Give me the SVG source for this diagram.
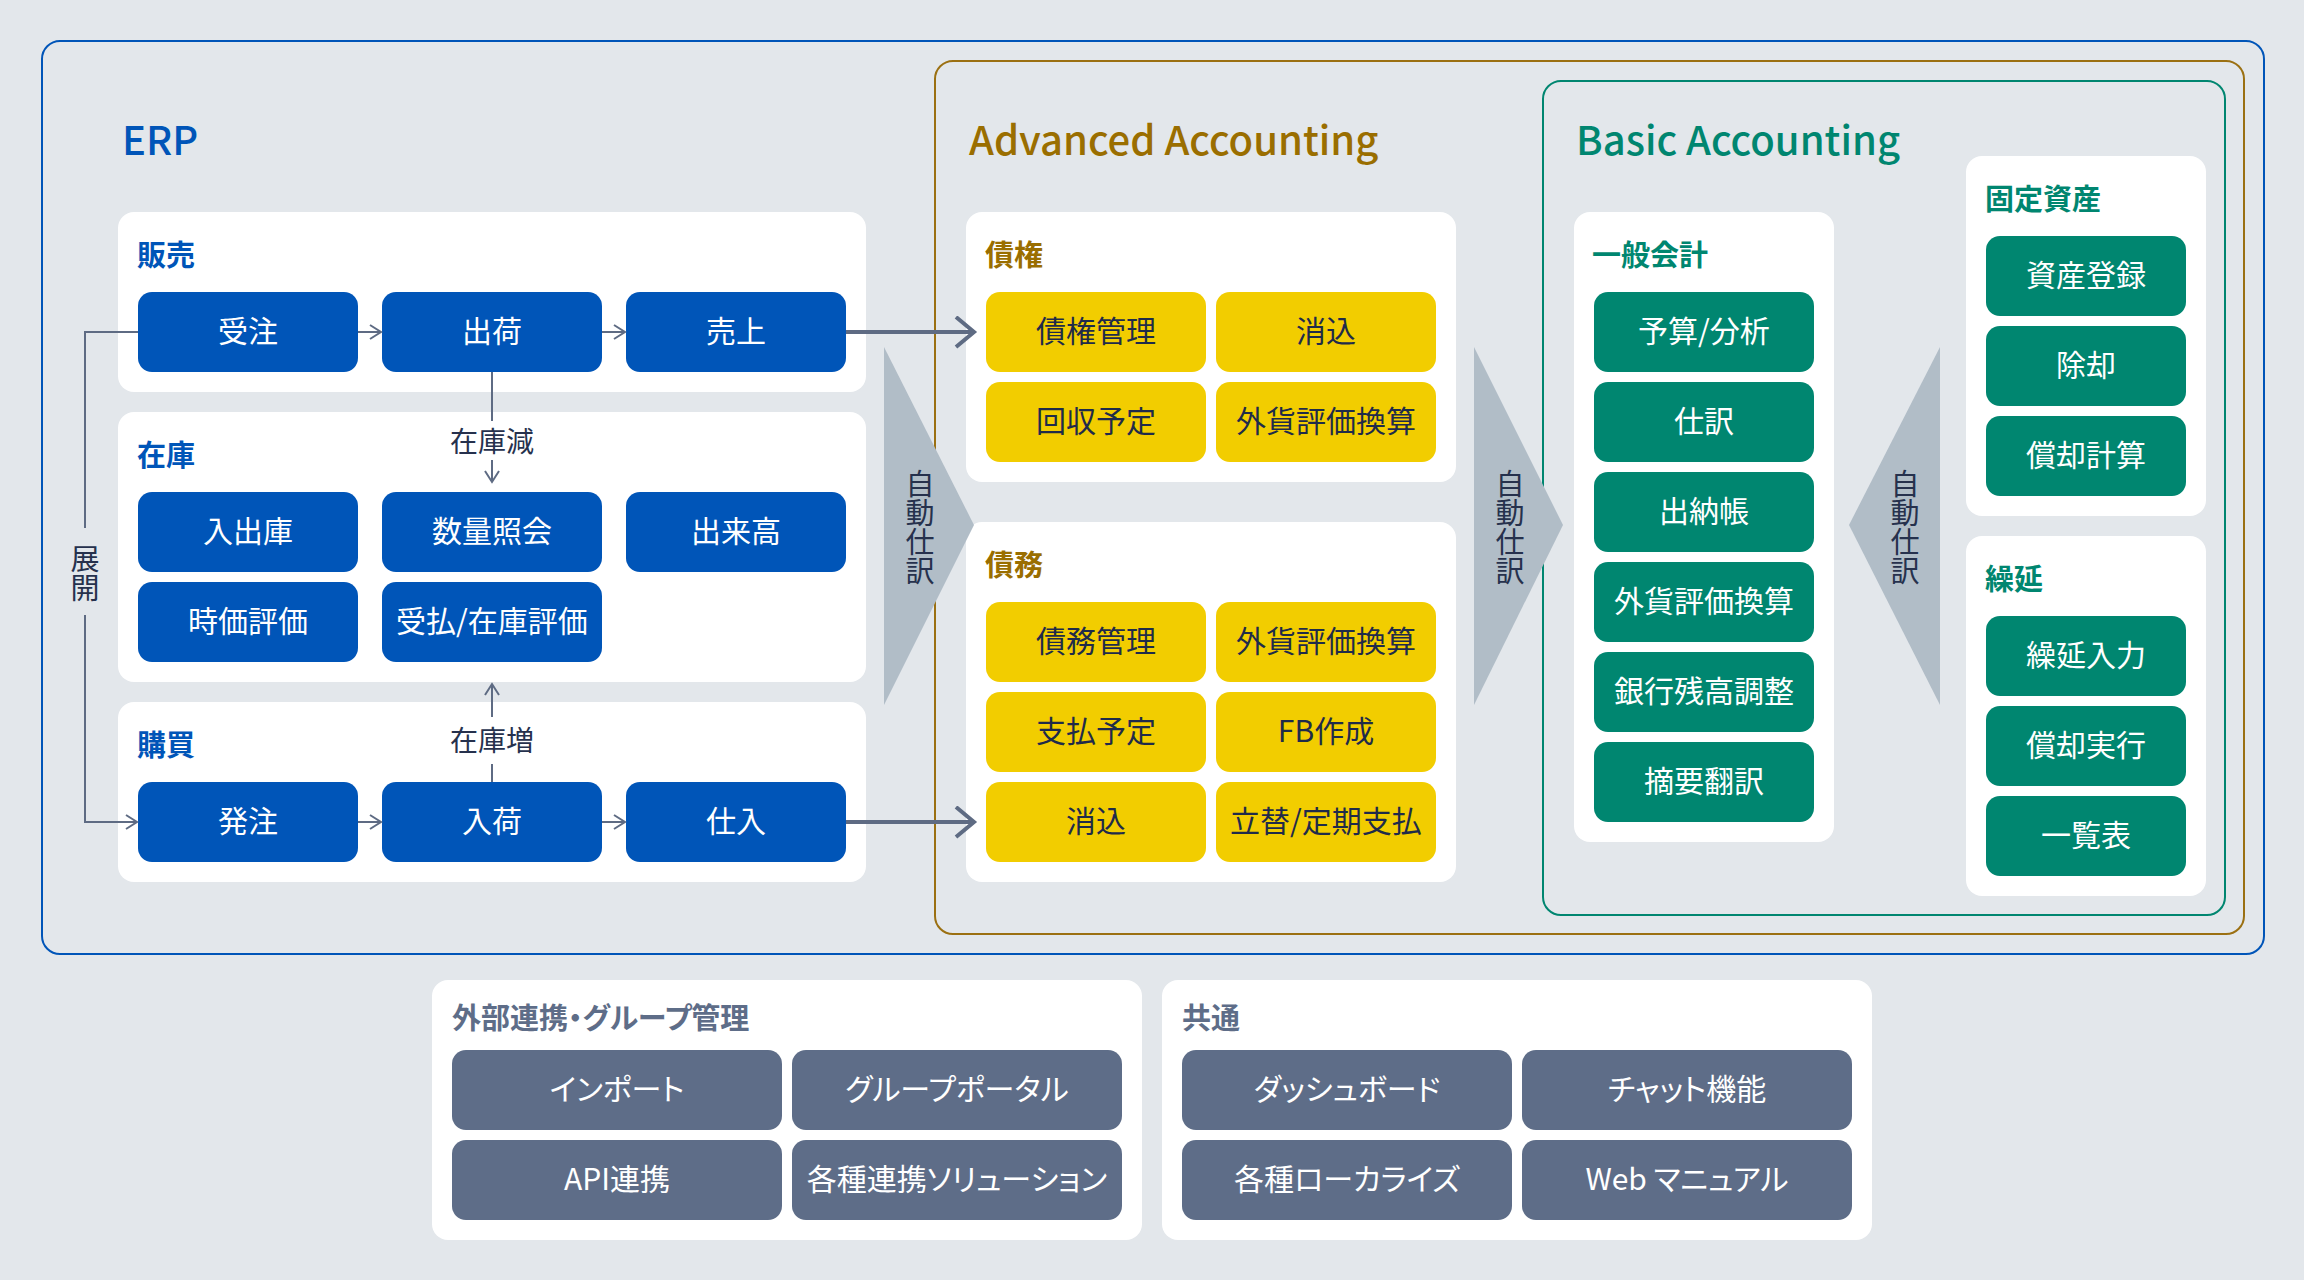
<svg xmlns="http://www.w3.org/2000/svg" width="2304" height="1280" viewBox="0 0 2304 1280">
<defs>
<style>
text{font-family:"Noto Sans CJK JP","Noto Sans",sans-serif;font-feature-settings:"palt";}
.title{font-size:40px;font-weight:500;}
.lbl{font-size:29px;font-weight:700;}
.btn{font-size:30px;text-anchor:middle;}
.note{font-size:28px;fill:#26314d;}
.vt{font-size:29px;fill:#26314d;writing-mode:vertical-rl;text-anchor:middle;}
.panel{fill:#ffffff;}
.blue{fill:#0055b8;}
.yel{fill:#f2cd00;}
.teal{fill:#008670;}
.slate{fill:#5e6d88;}
.wt{fill:#ffffff;}
.dk{fill:#1f2b4a;}
.tri{fill:#b1bdc7;}
.ln{fill:none;stroke:#5e6b83;stroke-width:2;}
.lnb{fill:none;stroke:#5e6b83;stroke-width:4;}
</style>
<marker id="arrS" markerUnits="userSpaceOnUse" markerWidth="16" markerHeight="18" refX="12" refY="8" orient="auto">
<path d="M1,1 L12,8 L1,15" fill="none" stroke="#5e6b83" stroke-width="2"/>
</marker>
<marker id="arrL" markerUnits="userSpaceOnUse" markerWidth="26" markerHeight="36" refX="20" refY="16" orient="auto">
<path d="M2,1 L20,16 L2,31" fill="none" stroke="#5e6b83" stroke-width="4"/>
</marker>
</defs>
<rect x="0" y="0" width="2304" height="1280" fill="#e3e7eb"/>

<g id="erp">
<rect x="42" y="41" width="2222" height="913" rx="18" fill="none" stroke="#0055b8" stroke-width="2"/>
<text class="title" x="122" y="155" fill="#0055b8">ERP</text>
</g>
<g id="advanced">
<rect x="935" y="61" width="1309" height="873" rx="18" fill="none" stroke="#9b7012" stroke-width="2"/>
<text class="title" x="969" y="155" fill="#9a6e00">Advanced Accounting</text>
</g>
<g id="basic">
<rect x="1543" y="81" width="682" height="834" rx="18" fill="none" stroke="#008670" stroke-width="2"/>
<text class="title" x="1576" y="155" fill="#008670">Basic Accounting</text>
</g>

<g id="hanbai">
<rect class="panel" x="118" y="212" width="748" height="180" rx="16"/>
<text class="lbl" x="137" y="266" fill="#0055b8">販売</text>
</g>
<g id="juchu"><rect class="blue" x="138" y="292" width="220" height="80" rx="14"/><text class="btn wt" x="248" y="342">受注</text></g>
<g id="shukka"><rect class="blue" x="382" y="292" width="220" height="80" rx="14"/><text class="btn wt" x="492" y="342">出荷</text></g>
<g id="uriage"><rect class="blue" x="626" y="292" width="220" height="80" rx="14"/><text class="btn wt" x="736" y="342">売上</text></g>

<g id="zaiko">
<rect class="panel" x="118" y="412" width="748" height="270" rx="16"/>
<text class="lbl" x="137" y="466" fill="#0055b8">在庫</text>
</g>
<g id="nyushukko"><rect class="blue" x="138" y="492" width="220" height="80" rx="14"/><text class="btn wt" x="248" y="542">入出庫</text></g>
<g id="suryo"><rect class="blue" x="382" y="492" width="220" height="80" rx="14"/><text class="btn wt" x="492" y="542">数量照会</text></g>
<g id="dekidaka"><rect class="blue" x="626" y="492" width="220" height="80" rx="14"/><text class="btn wt" x="736" y="542">出来高</text></g>
<g id="jika"><rect class="blue" x="138" y="582" width="220" height="80" rx="14"/><text class="btn wt" x="248" y="632">時価評価</text></g>
<g id="ukeharai"><rect class="blue" x="382" y="582" width="220" height="80" rx="14"/><text class="btn wt" x="492" y="632">受払/在庫評価</text></g>

<g id="kobai">
<rect class="panel" x="118" y="702" width="748" height="180" rx="16"/>
<text class="lbl" x="137" y="756" fill="#0055b8">購買</text>
</g>
<g id="hatchu"><rect class="blue" x="138" y="782" width="220" height="80" rx="14"/><text class="btn wt" x="248" y="832">発注</text></g>
<g id="nyuka"><rect class="blue" x="382" y="782" width="220" height="80" rx="14"/><text class="btn wt" x="492" y="832">入荷</text></g>
<g id="shiire"><rect class="blue" x="626" y="782" width="220" height="80" rx="14"/><text class="btn wt" x="736" y="832">仕入</text></g>

<g id="saiken">
<rect class="panel" x="966" y="212" width="490" height="270" rx="16"/>
<text class="lbl" x="985" y="266" fill="#9a6e00">債権</text>
</g>
<g id="saiken-kanri"><rect class="yel" x="986" y="292" width="220" height="80" rx="14"/><text class="btn dk" x="1096" y="342">債権管理</text></g>
<g id="saiken-keshikomi"><rect class="yel" x="1216" y="292" width="220" height="80" rx="14"/><text class="btn dk" x="1326" y="342">消込</text></g>
<g id="kaishu"><rect class="yel" x="986" y="382" width="220" height="80" rx="14"/><text class="btn dk" x="1096" y="432">回収予定</text></g>
<g id="saiken-gaika"><rect class="yel" x="1216" y="382" width="220" height="80" rx="14"/><text class="btn dk" x="1326" y="432">外貨評価換算</text></g>

<g id="saimu">
<rect class="panel" x="966" y="522" width="490" height="360" rx="16"/>
<text class="lbl" x="985" y="576" fill="#9a6e00">債務</text>
</g>
<g id="saimu-kanri"><rect class="yel" x="986" y="602" width="220" height="80" rx="14"/><text class="btn dk" x="1096" y="652">債務管理</text></g>
<g id="saimu-gaika"><rect class="yel" x="1216" y="602" width="220" height="80" rx="14"/><text class="btn dk" x="1326" y="652">外貨評価換算</text></g>
<g id="shiharai"><rect class="yel" x="986" y="692" width="220" height="80" rx="14"/><text class="btn dk" x="1096" y="742">支払予定</text></g>
<g id="fb"><rect class="yel" x="1216" y="692" width="220" height="80" rx="14"/><text class="btn dk" x="1326" y="742">FB作成</text></g>
<g id="saimu-keshikomi"><rect class="yel" x="986" y="782" width="220" height="80" rx="14"/><text class="btn dk" x="1096" y="832">消込</text></g>
<g id="tatekae"><rect class="yel" x="1216" y="782" width="220" height="80" rx="14"/><text class="btn dk" x="1326" y="832">立替/定期支払</text></g>

<g id="ippan">
<rect class="panel" x="1574" y="212" width="260" height="630" rx="16"/>
<text class="lbl" x="1592" y="266" fill="#008670">一般会計</text>
</g>
<g id="yosan"><rect class="teal" x="1594" y="292" width="220" height="80" rx="14"/><text class="btn wt" x="1704" y="342">予算/分析</text></g>
<g id="shiwake"><rect class="teal" x="1594" y="382" width="220" height="80" rx="14"/><text class="btn wt" x="1704" y="432">仕訳</text></g>
<g id="suitocho"><rect class="teal" x="1594" y="472" width="220" height="80" rx="14"/><text class="btn wt" x="1704" y="522">出納帳</text></g>
<g id="ippan-gaika"><rect class="teal" x="1594" y="562" width="220" height="80" rx="14"/><text class="btn wt" x="1704" y="612">外貨評価換算</text></g>
<g id="ginko"><rect class="teal" x="1594" y="652" width="220" height="80" rx="14"/><text class="btn wt" x="1704" y="702">銀行残高調整</text></g>
<g id="tekiyo"><rect class="teal" x="1594" y="742" width="220" height="80" rx="14"/><text class="btn wt" x="1704" y="792">摘要翻訳</text></g>

<g id="kotei">
<rect class="panel" x="1966" y="156" width="240" height="360" rx="16"/>
<text class="lbl" x="1985" y="210" fill="#008670">固定資産</text>
</g>
<g id="shisan"><rect class="teal" x="1986" y="236" width="200" height="80" rx="14"/><text class="btn wt" x="2086" y="286">資産登録</text></g>
<g id="jokyaku"><rect class="teal" x="1986" y="326" width="200" height="80" rx="14"/><text class="btn wt" x="2086" y="376">除却</text></g>
<g id="shokyaku"><rect class="teal" x="1986" y="416" width="200" height="80" rx="14"/><text class="btn wt" x="2086" y="466">償却計算</text></g>

<g id="kurinobe">
<rect class="panel" x="1966" y="536" width="240" height="360" rx="16"/>
<text class="lbl" x="1985" y="590" fill="#008670">繰延</text>
</g>
<g id="kurinobe-nyuryoku"><rect class="teal" x="1986" y="616" width="200" height="80" rx="14"/><text class="btn wt" x="2086" y="666">繰延入力</text></g>
<g id="shokyaku-jikko"><rect class="teal" x="1986" y="706" width="200" height="80" rx="14"/><text class="btn wt" x="2086" y="756">償却実行</text></g>
<g id="ichiran"><rect class="teal" x="1986" y="796" width="200" height="80" rx="14"/><text class="btn wt" x="2086" y="846">一覧表</text></g>

<g id="gaibu">
<rect class="panel" x="432" y="980" width="710" height="260" rx="16"/>
<text class="lbl" x="452" y="1029" fill="#5e6d88">外部連携・グループ管理</text>
</g>
<g id="import"><rect class="slate" x="452" y="1050" width="330" height="80" rx="14"/><text class="btn wt" x="617" y="1100">インポート</text></g>
<g id="portal"><rect class="slate" x="792" y="1050" width="330" height="80" rx="14"/><text class="btn wt" x="957" y="1100">グループポータル</text></g>
<g id="api"><rect class="slate" x="452" y="1140" width="330" height="80" rx="14"/><text class="btn wt" x="617" y="1190">API連携</text></g>
<g id="renkei"><rect class="slate" x="792" y="1140" width="330" height="80" rx="14"/><text class="btn wt" x="957" y="1190">各種連携ソリューション</text></g>

<g id="kyotsu">
<rect class="panel" x="1162" y="980" width="710" height="260" rx="16"/>
<text class="lbl" x="1182" y="1029" fill="#5e6d88">共通</text>
</g>
<g id="dashboard"><rect class="slate" x="1182" y="1050" width="330" height="80" rx="14"/><text class="btn wt" x="1347" y="1100">ダッシュボード</text></g>
<g id="chat"><rect class="slate" x="1522" y="1050" width="330" height="80" rx="14"/><text class="btn wt" x="1687" y="1100">チャット機能</text></g>
<g id="localize"><rect class="slate" x="1182" y="1140" width="330" height="80" rx="14"/><text class="btn wt" x="1347" y="1190">各種ローカライズ</text></g>
<g id="manual"><rect class="slate" x="1522" y="1140" width="330" height="80" rx="14"/><text class="btn wt" x="1687" y="1190">Web マニュアル</text></g>

<g id="connectors">
<polygon class="tri" points="884,347 974,525 884,705"/>
<text class="vt" x="920" y="527">自動仕訳</text>
<polygon class="tri" points="1474,347 1563,525 1474,705"/>
<text class="vt" x="1510" y="527">自動仕訳</text>
<polygon class="tri" points="1940,347 1849,525 1940,705"/>
<text class="vt" x="1905" y="527">自動仕訳</text>

<path class="ln" d="M358,332 H381" marker-end="url(#arrS)"/>
<path class="ln" d="M602,332 H625" marker-end="url(#arrS)"/>
<path class="ln" d="M358,822 H381" marker-end="url(#arrS)"/>
<path class="ln" d="M602,822 H625" marker-end="url(#arrS)"/>
<path class="ln" d="M138,332 H85 V528"/>
<path class="ln" d="M85,615 V822 H137" marker-end="url(#arrS)"/>
<text class="vt" x="85" y="573">展開</text>
<path class="ln" d="M492,372 V421"/>
<text class="note" x="492" y="452" text-anchor="middle">在庫減</text>
<path class="ln" d="M492,460 V482" marker-end="url(#arrS)"/>
<path class="ln" d="M492,782 V764"/>
<text class="note" x="492" y="751" text-anchor="middle">在庫増</text>
<path class="ln" d="M492,717 V684" marker-end="url(#arrS)"/>
<path class="lnb" d="M846,332 H974" marker-end="url(#arrL)"/>
<path class="lnb" d="M846,822 H974" marker-end="url(#arrL)"/>
</g>
</svg>
